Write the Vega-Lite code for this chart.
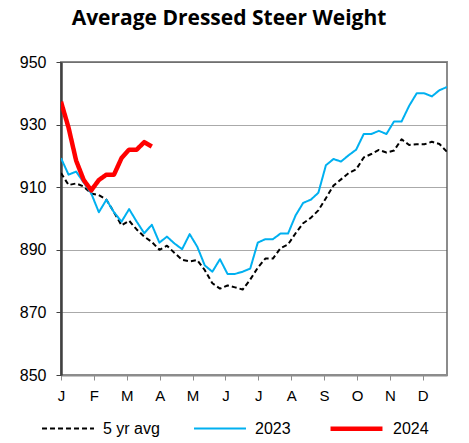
{
  "$schema": "https://vega.github.io/schema/vega-lite/v6.json",
  "autosize": "none",
  "width": 386,
  "height": 313,
  "padding": {"left": 61, "top": 62, "right": 22, "bottom": 68},
  "background": "white",
  "title": {"text": "Average Dressed Steer Weight", "font": "Open Sans", "fontSize": 21, "fontWeight": "bold", "color": "black", "anchor": "middle", "dx": -25, "offset": 25},
  "config": {
    "view": {"stroke": "#8c8c8c", "strokeWidth": 2},
    "font": "Liberation Sans"
  },
  "data": {"values": [
    {"week": 1, "5 yr avg": 914.5, "2023": 919.3, "2024": 937.3},
    {"week": 2, "5 yr avg": 910.7, "2023": 914, "2024": 929},
    {"week": 3, "5 yr avg": 911.2, "2023": 915, "2024": 918.5},
    {"week": 4, "5 yr avg": 910.2, "2023": 911.5, "2024": 912.3},
    {"week": 5, "5 yr avg": 908, "2023": 908, "2024": 909},
    {"week": 6, "5 yr avg": 907.5, "2023": 902, "2024": 912.3},
    {"week": 7, "5 yr avg": 906, "2023": 906, "2024": 914},
    {"week": 8, "5 yr avg": 902, "2023": 902, "2024": 914},
    {"week": 9, "5 yr avg": 897.8, "2023": 899, "2024": 919.3},
    {"week": 10, "5 yr avg": 899.3, "2023": 903, "2024": 922},
    {"week": 11, "5 yr avg": 896.5, "2023": 899, "2024": 922},
    {"week": 12, "5 yr avg": 894.2, "2023": 895.3, "2024": 924.4},
    {"week": 13, "5 yr avg": 892.5, "2023": 898, "2024": 923},
    {"week": 14, "5 yr avg": 890, "2023": 892.3, "2024": null},
    {"week": 15, "5 yr avg": 891.3, "2023": 894.2, "2024": null},
    {"week": 16, "5 yr avg": 889, "2023": 892, "2024": null},
    {"week": 17, "5 yr avg": 886.8, "2023": 890.2, "2024": null},
    {"week": 18, "5 yr avg": 886.3, "2023": 895, "2024": null},
    {"week": 19, "5 yr avg": 886.7, "2023": 891, "2024": null},
    {"week": 20, "5 yr avg": 883.5, "2023": 885, "2024": null},
    {"week": 21, "5 yr avg": 879.3, "2023": 883, "2024": null},
    {"week": 22, "5 yr avg": 877.6, "2023": 887, "2024": null},
    {"week": 23, "5 yr avg": 878.6, "2023": 882.3, "2024": null},
    {"week": 24, "5 yr avg": 878, "2023": 882.3, "2024": null},
    {"week": 25, "5 yr avg": 877.3, "2023": 883, "2024": null},
    {"week": 26, "5 yr avg": 880.5, "2023": 884, "2024": null},
    {"week": 27, "5 yr avg": 884.3, "2023": 892.3, "2024": null},
    {"week": 28, "5 yr avg": 887.2, "2023": 893.4, "2024": null},
    {"week": 29, "5 yr avg": 887.2, "2023": 893.4, "2024": null},
    {"week": 30, "5 yr avg": 890.5, "2023": 895.2, "2024": null},
    {"week": 31, "5 yr avg": 891.7, "2023": 895.2, "2024": null},
    {"week": 32, "5 yr avg": 895.3, "2023": 901, "2024": null},
    {"week": 33, "5 yr avg": 898.5, "2023": 905, "2024": null},
    {"week": 34, "5 yr avg": 900.2, "2023": 906, "2024": null},
    {"week": 35, "5 yr avg": 902.6, "2023": 908.2, "2024": null},
    {"week": 36, "5 yr avg": 906.5, "2023": 917, "2024": null},
    {"week": 37, "5 yr avg": 910.5, "2023": 919, "2024": null},
    {"week": 38, "5 yr avg": 912.5, "2023": 918.2, "2024": null},
    {"week": 39, "5 yr avg": 914.5, "2023": 920.2, "2024": null},
    {"week": 40, "5 yr avg": 915.7, "2023": 922, "2024": null},
    {"week": 41, "5 yr avg": 919.5, "2023": 927, "2024": null},
    {"week": 42, "5 yr avg": 920.6, "2023": 927, "2024": null},
    {"week": 43, "5 yr avg": 921.9, "2023": 928, "2024": null},
    {"week": 44, "5 yr avg": 921.1, "2023": 927, "2024": null},
    {"week": 45, "5 yr avg": 921.7, "2023": 931, "2024": null},
    {"week": 46, "5 yr avg": 925.3, "2023": 931, "2024": null},
    {"week": 47, "5 yr avg": 923.5, "2023": 936, "2024": null},
    {"week": 48, "5 yr avg": 923.7, "2023": 940, "2024": null},
    {"week": 49, "5 yr avg": 923.7, "2023": 940, "2024": null},
    {"week": 50, "5 yr avg": 924.5, "2023": 939, "2024": null},
    {"week": 51, "5 yr avg": 923.8, "2023": 941, "2024": null},
    {"week": 52, "5 yr avg": 921.3, "2023": 942, "2024": null}
  ]},
  "transform": [
    {"fold": ["5 yr avg", "2023", "2024"], "as": ["series", "value"]},
    {"filter": "datum.value != null"}
  ],
  "mark": {"type": "line", "strokeJoin": "round", "strokeCap": "butt", "clip": true},
  "encoding": {
    "x": {
      "field": "week", "type": "quantitative",
      "scale": {"domain": [1, 52], "nice": false, "zero": false},
      "axis": {
        "title": null, "grid": false,
        "values": [1, 5.345, 9.69, 14.035, 18.38, 22.725, 27.07, 31.415, 35.76, 40.105, 44.45, 48.795],
        "labelExpr": "['J','F','M','A','M','J','J','A','S','O','N','D'][round((datum.value-1)/4.345)]",
        "labelFont": "Liberation Sans", "labelFontSize": 15, "labelColor": "black",
        "labelPadding": 8, "tickSize": 5, "tickColor": "#8c8c8c", "tickWidth": 1,
        "domainColor": "#8c8c8c", "domainWidth": 2, "labelFlush": false, "labelOverlap": false
      }
    },
    "y": {
      "field": "value", "type": "quantitative",
      "scale": {"domain": [850, 950], "nice": false, "zero": false},
      "axis": {
        "title": null, "values": [850, 870, 890, 910, 930, 950],
        "grid": true, "gridDash": [1, 1], "gridColor": "#555555", "gridWidth": 1,
        "labelFont": "Liberation Sans", "labelFontSize": 16, "labelColor": "black",
        "labelPadding": 10, "tickSize": 5, "tickColor": "#404040", "tickWidth": 1,
        "domainColor": "#404040", "domainWidth": 2.5
      }
    },
    "color": {
      "field": "series", "type": "nominal",
      "scale": {"domain": ["5 yr avg", "2023", "2024"], "range": ["#000000", "#00b0f0", "#ff0000"]},
      "legend": {
        "title": null, "orient": "none", "direction": "horizontal",
        "legendX": -20, "legendY": 338,
        "symbolType": "stroke", "symbolSize": 2700,
        "labelFont": "Liberation Sans", "labelFontSize": 16, "labelColor": "black",
        "labelOffset": 8, "columnPadding": 30
      }
    },
    "strokeDash": {
      "field": "series", "type": "nominal",
      "scale": {"domain": ["5 yr avg", "2023", "2024"], "range": [[5, 3], [1, 0], [1, 0]]},
      "legend": null
    },
    "strokeWidth": {
      "field": "series", "type": "ordinal",
      "scale": {"type": "ordinal", "domain": ["5 yr avg", "2023", "2024"], "range": [2, 2, 4.5]},
      "legend": null
    }
  }
}
